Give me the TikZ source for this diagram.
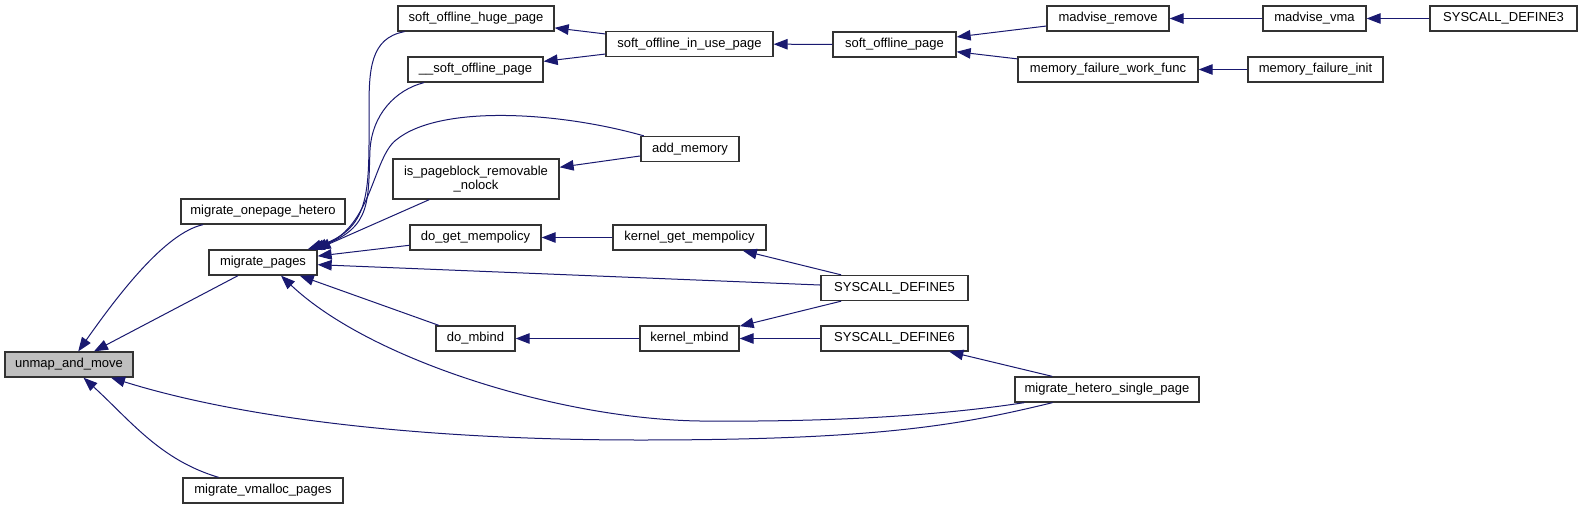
\documentclass[tikz,border=0pt]{standalone}
\usepackage{fontspec}
\setmainfont{Liberation Sans}
\usetikzlibrary{arrows.meta}
\definecolor{edgeblue}{HTML}{191970}
\definecolor{boxline}{HTML}{333333}
\definecolor{hl}{HTML}{BFBFBF}
\begin{document}
\begin{tikzpicture}[x=1pt,y=-1pt,
  box/.style={draw=boxline, line width=1.3pt, fill=white, rectangle, inner sep=0pt,
    minimum height=25pt, font=\fontsize{13}{14}\selectfont, align=center},
  edge/.style={draw=edgeblue, line width=1pt, -{Triangle[length=14pt,width=10.5pt]}, fill=none}]
\fill[white] (0,0) rectangle (1583,509);
\useasboundingbox (0,0) rectangle (1583,509);
% nodes
\node[box, fill=hl, minimum width=128pt] (unmap) at (69,364.5) {unmap\_and\_move};
\node[box, minimum width=108pt] (mpages) at (263,262.5) {migrate\_pages};
\node[box, minimum width=160pt] (mvmalloc) at (263,490.5) {migrate\_vmalloc\_pages};
\node[box, minimum width=164pt] (monepage) at (263,211.5) {migrate\_onepage\_hetero};
\node[box, minimum width=156pt] (sohuge) at (476,18.5) {soft\_offline\_huge\_page};
\node[box, minimum width=135pt] (ssop) at (475.5,69.5) {\_\_soft\_offline\_page};
\node[box, minimum width=166pt, minimum height=40pt] (ispb) at (476,179) {is\_pageblock\_removable\\\_nolock};
\node[box, minimum width=131pt] (dogmp) at (475.5,237.5) {do\_get\_mempolicy};
\node[box, minimum width=79pt] (domb) at (475.5,338.5) {do\_mbind};
\node[box, minimum width=167pt] (soiup) at (689.5,44) {soft\_offline\_in\_use\_page};
\node[box, minimum width=98pt] (addmem) at (690,149) {add\_memory};
\node[box, minimum width=153pt] (kgmp) at (689.5,237.5) {kernel\_get\_mempolicy};
\node[box, minimum width=99pt] (kmb) at (689.5,338.5) {kernel\_mbind};
\node[box, minimum width=123pt] (sop) at (894.5,44.5) {soft\_offline\_page};
\node[box, minimum width=147pt] (sd5) at (894.5,288) {SYSCALL\_DEFINE5};
\node[box, minimum width=147pt] (sd6) at (894.5,338.5) {SYSCALL\_DEFINE6};
\node[box, minimum width=184pt] (mhsp) at (1107,389.5) {migrate\_hetero\_single\_page};
\node[box, minimum width=122pt] (madrm) at (1108,18.5) {madvise\_remove};
\node[box, minimum width=180pt] (mfwf) at (1108,69.5) {memory\_failure\_work\_func};
\node[box, minimum width=103pt] (madvma) at (1314.5,18.5) {madvise\_vma};
\node[box, minimum width=135pt] (mfinit) at (1315.5,69.5) {memory\_failure\_init};
\node[box, minimum width=147pt] (sd3) at (1503.5,18.5) {SYSCALL\_DEFINE3};
% edges
\draw[edge] (monepage) .. controls (165,233) and (118,295) .. (unmap);
\draw[edge] (mpages) -- (unmap);
\draw[edge] (mhsp) .. controls (960,425) and (880,440) .. (640,440) .. controls (420,440) and (240,418) .. (unmap);
\draw[edge] (mvmalloc) .. controls (160,460) and (130,420) .. (unmap);
\draw[edge] (sohuge) .. controls (370,38) and (369,70) .. (369,110) .. controls (369,190) and (372,228) .. ([xshift=-10pt]mpages.north east);
\draw[edge] (ssop) .. controls (395,90) and (372,115) .. (370,150) .. controls (368,200) and (372,228) .. ([xshift=-7pt]mpages.north east);
\draw[edge] (addmem) .. controls (560,112) and (440,104) .. (396,140) .. controls (373,158) and (372,225) .. ([xshift=-4pt]mpages.north east);
\draw[edge] (ispb) -- ([xshift=-1pt]mpages.north east);
\draw[edge] (dogmp) -- (mpages);
\draw[edge] (sd5) -- (mpages);
\draw[edge] (domb) -- (mpages);
\draw[edge] ([xshift=10pt]mhsp.south west) .. controls (930,417) and (820,422) .. (700,421) .. controls (560,419) and (370,360) .. ([xshift=18pt]mpages.south);
\draw[edge] (soiup) -- (sohuge);
\draw[edge] (soiup) -- (ssop);
\draw[edge] (addmem) -- (ispb);
\draw[edge] (kgmp) -- (dogmp);
\draw[edge] (sop) -- (soiup);
\draw[edge] (sd5) -- (kgmp);
\draw[edge] (kmb) -- (domb);
\draw[edge] (sd5) -- (kmb);
\draw[edge] (sd6) -- (kmb);
\draw[edge] (mhsp) -- (sd6);
\draw[edge] (madrm) -- (sop);
\draw[edge] (mfwf) -- (sop);
\draw[edge] (madvma) -- (madrm);
\draw[edge] (mfinit) -- (mfwf);
\draw[edge] (sd3) -- (madvma);
\end{tikzpicture}
\end{document}
